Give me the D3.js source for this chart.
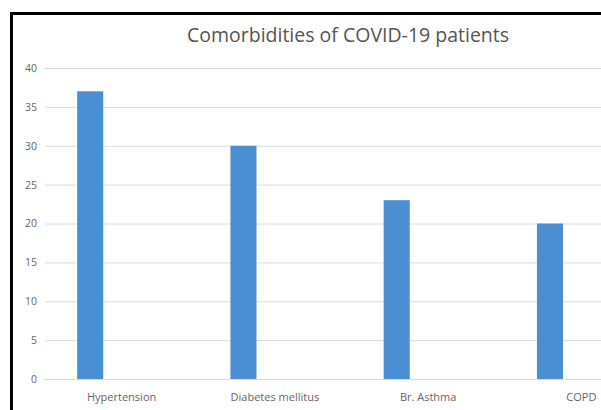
<!DOCTYPE html>
<html>
<head>
<meta charset="utf-8">
<script src="https://cdn.jsdelivr.net/npm/d3@7"></script>
<style>
  html, body { margin: 0; padding: 0; background: #fff; overflow: hidden; }
  svg { display: block; }
</style>
</head>
<body>
<svg id="chart" width="601" height="410"></svg>
<script>
// Chart data
const categories = ["Hypertension", "Diabetes mellitus", "Br. Asthma", "COPD"];
const patients = [37, 30, 23, 20];
const yTicks = [0, 5, 10, 15, 20, 25, 30, 35, 40];
const titleText = "Comorbidities of COVID-19 patients";

const svg = d3.select("#chart");
const W = 601, H = 410;
const font = "'Open Sans', 'Liberation Sans', sans-serif";

// Plot area (the category axis runs past the right edge of the frame)
const plot = { left: 45, right: 658, top: 68, bottom: 379 };

const x = d3.scaleBand()
  .domain(categories)
  .range([plot.left, plot.right]);

const y = d3.scaleLinear()
  .domain([0, 40])
  .range([plot.bottom, plot.top]);

// Outer frame: black border along the left and top edges
svg.append("path")
  .attr("d", `M11.5,${H + 5} V13.5 H${W + 10}`)
  .attr("fill", "none")
  .attr("stroke", "#000")
  .attr("stroke-width", 3);

// Title
svg.append("text")
  .attr("x", 348).attr("y", 42)
  .attr("text-anchor", "middle")
  .attr("font-family", font)
  .attr("font-size", 19.5)
  .attr("fill", "#555")
  .text(titleText);

// Horizontal gridlines + y tick labels
const yAxis = d3.axisLeft(y)
  .tickValues(yTicks)
  .tickSize(-(W + 10 - plot.left))
  .tickPadding(8);

const gy = svg.append("g")
  .attr("transform", `translate(${plot.left},0)`)
  .call(yAxis);
gy.select(".domain").remove();
gy.selectAll(".tick line")
  .attr("stroke", "#dcdcdc")
  .attr("stroke-width", 1);
gy.selectAll(".tick text")
  .attr("font-family", font)
  .attr("font-size", 10.5)
  .attr("fill", "#666");

// Bars sit at the left of each category slot
const barOffset = x.bandwidth() * 0.21;
const barWidth = x.bandwidth() * 0.17;

svg.append("g")
  .selectAll("rect")
  .data(categories.map((c, i) => ({ c, v: patients[i] })))
  .join("rect")
  .attr("x", d => x(d.c) + barOffset)
  .attr("y", d => y(d.v))
  .attr("width", barWidth)
  .attr("height", d => y(0) - y(d.v))
  .attr("fill", "#4A8ED4");

// Category axis labels
const xAxis = d3.axisBottom(x).tickSize(0).tickPadding(14);
const gx = svg.append("g")
  .attr("transform", `translate(0,${plot.bottom})`)
  .call(xAxis);
gx.select(".domain").remove();
gx.selectAll(".tick text")
  .attr("font-family", font)
  .attr("font-size", 11)
  .attr("fill", "#666");
</script>
</body>
</html>
